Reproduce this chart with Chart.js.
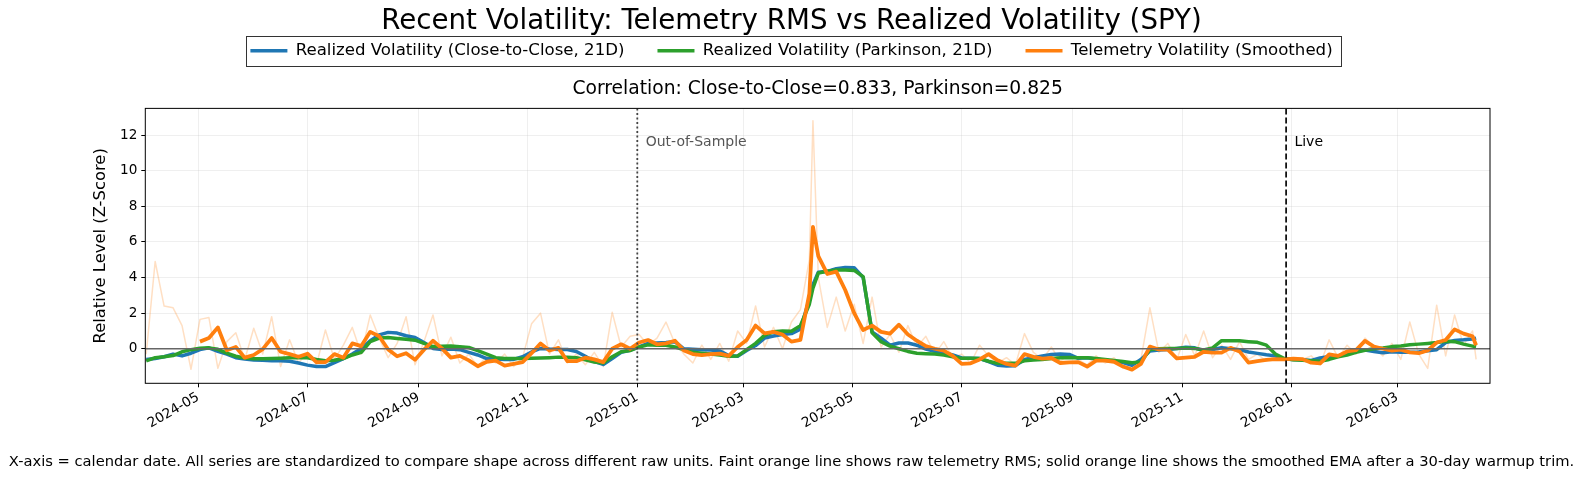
<!DOCTYPE html>
<html>
<head>
<meta charset="utf-8">
<title>Recent Volatility: Telemetry RMS vs Realized Volatility (SPY)</title>
<script src="https://cdn.jsdelivr.net/npm/chart.js@4.4.1/dist/chart.umd.min.js"></script>
<style>
  html, body { margin: 0; padding: 0; background: #fff; }
  #wrap { position: relative; width: 1583px; height: 481px; }
</style>
</head>
<body>
<div id="wrap"><canvas id="chart"></canvas></div>
<script>
// sample dates (roughly every 5 days), one line per month
const dates = [
  '2024-04-02','2024-04-07','2024-04-12','2024-04-17','2024-04-22','2024-04-27',
  '2024-05-02','2024-05-07','2024-05-12','2024-05-17','2024-05-22','2024-05-27',
  '2024-06-01','2024-06-06','2024-06-11','2024-06-16','2024-06-21','2024-06-26',
  '2024-07-01','2024-07-06','2024-07-11','2024-07-16','2024-07-21','2024-07-26','2024-07-31',
  '2024-08-05','2024-08-10','2024-08-15','2024-08-20','2024-08-25','2024-08-30',
  '2024-09-04','2024-09-09','2024-09-14','2024-09-19','2024-09-24','2024-09-29',
  '2024-10-04','2024-10-09','2024-10-14','2024-10-19','2024-10-24','2024-10-29',
  '2024-11-03','2024-11-08','2024-11-13','2024-11-18','2024-11-23','2024-11-28',
  '2024-12-03','2024-12-08','2024-12-13','2024-12-18','2024-12-23','2024-12-28',
  '2025-01-02','2025-01-07','2025-01-12','2025-01-17','2025-01-22','2025-01-27',
  '2025-02-01','2025-02-06','2025-02-11','2025-02-16','2025-02-21','2025-02-26',
  '2025-03-03','2025-03-08','2025-03-13','2025-03-18','2025-03-23','2025-03-28',
  '2025-04-02','2025-04-07','2025-04-09','2025-04-12','2025-04-17','2025-04-22','2025-04-27',
  '2025-05-02','2025-05-07','2025-05-12','2025-05-17','2025-05-22','2025-05-27',
  '2025-06-01','2025-06-06','2025-06-11','2025-06-16','2025-06-21','2025-06-26',
  '2025-07-01','2025-07-06','2025-07-11','2025-07-16','2025-07-21','2025-07-26','2025-07-31',
  '2025-08-05','2025-08-10','2025-08-15','2025-08-20','2025-08-25','2025-08-30',
  '2025-09-04','2025-09-09','2025-09-14','2025-09-19','2025-09-24','2025-09-29',
  '2025-10-04','2025-10-09','2025-10-14','2025-10-19','2025-10-24','2025-10-29',
  '2025-11-03','2025-11-08','2025-11-13','2025-11-18','2025-11-23','2025-11-28',
  '2025-12-03','2025-12-08','2025-12-13','2025-12-18','2025-12-23','2025-12-28',
  '2026-01-02','2026-01-07','2026-01-12','2026-01-17','2026-01-22','2026-01-27',
  '2026-02-01','2026-02-06','2026-02-11','2026-02-16','2026-02-21','2026-02-26',
  '2026-03-03','2026-03-08','2026-03-13','2026-03-18','2026-03-23','2026-03-28',
  '2026-04-02','2026-04-07','2026-04-12','2026-04-14'
];

// realized vol, close-to-close 21D (z-score)
const rvClose = [
  -0.6,-0.55,-0.45,-0.3,-0.4,-0.25,
  -0.05,0.05,-0.15,-0.3,-0.5,-0.58,
  -0.63,-0.65,-0.67,-0.68,-0.7,-0.8,
  -0.92,-1.0,-1.0,-0.78,-0.55,-0.3,0.02,
  0.45,0.78,0.92,0.88,0.73,0.63,
  0.35,0.02,-0.04,-0.02,-0.05,-0.2,
  -0.35,-0.55,-0.58,-0.6,-0.6,-0.45,
  -0.18,0.02,-0.02,-0.04,-0.04,-0.15,
  -0.42,-0.72,-0.88,-0.55,-0.2,-0.08,
  0.1,0.3,0.32,0.35,0.4,0.0,
  -0.03,-0.05,-0.07,-0.12,-0.38,-0.42,
  -0.1,0.18,0.6,0.72,0.8,0.85,
  1.1,2.8,3.6,4.3,4.35,4.5,4.57,
  4.55,4.0,0.95,0.6,0.2,0.32,
  0.32,0.2,-0.02,-0.15,-0.22,-0.35,
  -0.52,-0.54,-0.55,-0.72,-0.92,-0.97,-0.95,
  -0.6,-0.5,-0.4,-0.32,-0.3,-0.32,
  -0.54,-0.5,-0.58,-0.64,-0.7,-0.78,
  -0.93,-0.6,-0.12,-0.07,-0.04,0.02,
  0.08,0.05,-0.11,-0.04,0.06,0.0,
  -0.05,-0.18,-0.26,-0.34,-0.4,-0.58,
  -0.6,-0.62,-0.66,-0.52,-0.44,-0.4,
  -0.26,-0.12,-0.07,-0.15,-0.22,-0.17,
  -0.2,-0.2,-0.18,-0.11,-0.05,0.35,
  0.47,0.5,0.55,0.6
];

// realized vol, Parkinson 21D (z-score)
const rvParkinson = [
  -0.68,-0.5,-0.45,-0.38,-0.17,-0.05,
  0.03,0.05,-0.03,-0.25,-0.42,-0.52,
  -0.56,-0.56,-0.55,-0.53,-0.5,-0.5,
  -0.5,-0.6,-0.67,-0.65,-0.55,-0.35,-0.2,
  0.4,0.6,0.63,0.58,0.53,0.48,
  0.3,0.12,0.14,0.16,0.12,0.07,
  -0.1,-0.3,-0.5,-0.55,-0.55,-0.55,
  -0.54,-0.52,-0.5,-0.47,-0.48,-0.5,
  -0.62,-0.75,-0.8,-0.45,-0.17,-0.1,
  0.1,0.22,0.2,0.2,0.1,-0.05,
  -0.2,-0.25,-0.3,-0.35,-0.42,-0.4,
  -0.05,0.3,0.75,0.95,1.0,0.98,
  1.3,2.5,3.4,4.25,4.35,4.42,4.42,
  4.4,4.05,0.9,0.4,0.15,0.0,
  -0.15,-0.25,-0.28,-0.3,-0.35,-0.45,
  -0.54,-0.54,-0.55,-0.7,-0.82,-0.82,-0.82,
  -0.68,-0.63,-0.6,-0.55,-0.5,-0.49,
  -0.5,-0.5,-0.55,-0.6,-0.66,-0.72,
  -0.78,-0.75,-0.04,0.0,0.02,0.02,
  0.04,0.02,-0.07,0.05,0.45,0.45,
  0.45,0.4,0.36,0.2,-0.3,-0.55,
  -0.62,-0.65,-0.68,-0.7,-0.6,-0.45,
  -0.35,-0.2,-0.08,0.0,0.05,0.12,
  0.15,0.22,0.26,0.3,0.35,0.42,
  0.4,0.26,0.15,0.11
];

// telemetry volatility, smoothed EMA (starts after warmup trim)
const telemetrySmooth = [
  null,null,null,null,null,null,
  0.4,0.6,1.2,-0.08,0.1,-0.5,
  -0.35,-0.02,0.6,-0.17,-0.3,-0.45,
  -0.28,-0.75,-0.75,-0.3,-0.5,0.3,0.15,
  0.95,0.7,-0.04,-0.42,-0.25,-0.62,
  -0.05,0.45,0.02,-0.5,-0.4,-0.65,
  -0.98,-0.73,-0.67,-0.95,-0.85,-0.75,
  -0.25,0.3,-0.1,0.05,-0.7,-0.7,
  -0.5,-0.6,-0.75,0.0,0.25,0.0,
  0.35,0.49,0.25,0.3,0.45,-0.1,
  -0.3,-0.36,-0.3,-0.27,-0.4,0.1,
  0.49,1.3,0.86,0.95,0.8,0.4,
  0.5,3.1,6.85,5.2,4.2,4.33,3.3,
  2.0,1.05,1.3,0.95,0.85,1.35,
  0.8,0.45,0.15,0.0,-0.1,-0.4,
  -0.85,-0.82,-0.6,-0.3,-0.65,-0.85,-0.95,
  -0.3,-0.45,-0.55,-0.52,-0.8,-0.77,
  -0.75,-1.0,-0.67,-0.67,-0.73,-1.0,
  -1.17,-0.85,0.12,-0.04,-0.05,-0.54,
  -0.5,-0.45,-0.17,-0.22,-0.22,0.05,
  -0.15,-0.78,-0.7,-0.62,-0.58,-0.6,
  -0.56,-0.58,-0.78,-0.82,-0.32,-0.4,
  -0.15,-0.08,0.44,0.12,0.0,-0.1,
  -0.05,-0.2,-0.25,-0.1,0.35,0.49,
  1.09,0.85,0.7,0.2
];

// telemetry RMS, raw (faint line)
const telemetryRaw = [
  -0.3,4.9,2.4,2.3,1.3,-1.15,
  1.65,1.75,-1.1,0.4,0.9,-0.6,
  1.15,-0.3,1.8,-1.0,0.5,-0.8,
  -0.2,-0.9,1.05,-0.6,0.2,1.2,-0.3,
  1.9,0.6,-0.5,0.3,1.8,-0.9,
  0.4,1.9,-0.4,0.65,-0.8,-0.3,
  -1.0,-0.4,-0.8,-0.3,-1.0,-0.5,
  1.4,2.0,-0.3,0.5,-0.8,-0.3,
  -0.9,-0.2,-1.0,2.05,0.1,0.7,
  0.8,0.2,0.6,1.5,0.3,-0.3,
  -0.8,0.2,-0.6,0.3,-0.7,1.0,
  0.3,2.4,0.1,1.2,0.0,1.5,
  2.2,5.0,12.8,4.0,1.2,2.9,1.0,
  2.5,0.3,2.9,0.1,0.8,-0.2,
  1.3,0.1,0.7,-0.3,0.4,-0.5,
  -0.3,-0.8,0.2,-0.4,-0.8,-0.5,-0.9,
  0.85,-0.2,-0.6,0.1,-0.7,-0.3,
  -0.6,-0.9,-0.4,-0.8,-0.5,-1.1,
  -0.9,-0.6,2.3,-0.2,0.3,-0.6,
  0.8,-0.4,1.0,-0.5,0.2,-0.6,
  0.4,-0.6,-0.3,-0.7,-0.4,-0.5,
  -0.7,-0.6,-0.4,-0.9,0.5,-0.5,
  0.2,-0.3,0.6,0.1,-0.4,0.3,
  -0.6,1.5,-0.3,-1.1,2.45,-0.4,
  1.9,0.2,1.0,-0.6
];

const xTickDates = ['2024-05-01','2024-07-01','2024-09-01','2024-11-01','2025-01-01','2025-03-01',
                    '2025-05-01','2025-07-01','2025-09-01','2025-11-01','2026-01-01','2026-03-01'];
const yTicks = [0, 2, 4, 6, 8, 10, 12];
const xMin = '2024-04-01T12:00:00Z';
const xMax = '2026-04-21T18:00:00Z';
const oosDate = '2025-01-01';
const liveDate = '2025-12-29';
const markerLabelLevel = 11.57;

const titleText = 'Recent Volatility: Telemetry RMS vs Realized Volatility (SPY)';
const subtitleText = 'Correlation: Close-to-Close=0.833, Parkinson=0.825';
const footerText = 'X-axis = calendar date. All series are standardized to compare shape across different raw units. ' +
  'Faint orange line shows raw telemetry RMS; solid orange line shows the smoothed EMA after a 30-day warmup trim.';

const toMs = s => Date.parse(s.length === 10 ? s + 'T00:00:00Z' : s);
const pts = arr => dates.map((d, i) => ({ x: toMs(d), y: arr[i] }));

const FONT = "'DejaVu Sans', sans-serif";
Chart.defaults.font.family = FONT;
Chart.defaults.color = '#000';

const overlay = {
  id: 'overlay',
  afterDatasetsDraw(chart) {
    const { ctx, chartArea: a, scales: { x, y } } = chart;
    ctx.save();
    ctx.beginPath();
    ctx.rect(a.left, a.top, a.width, a.height);
    ctx.clip();

    // zero line
    const y0 = y.getPixelForValue(0);
    ctx.strokeStyle = '#666';
    ctx.lineWidth = 1.6;
    ctx.beginPath(); ctx.moveTo(a.left, y0); ctx.lineTo(a.right, y0); ctx.stroke();

    // out-of-sample split
    const xo = x.getPixelForValue(toMs(oosDate));
    ctx.strokeStyle = '#444';
    ctx.lineWidth = 1.8;
    ctx.setLineDash([2, 2.5]);
    ctx.beginPath(); ctx.moveTo(xo, a.top); ctx.lineTo(xo, a.bottom); ctx.stroke();

    // live split
    const xl = x.getPixelForValue(toMs(liveDate));
    ctx.strokeStyle = '#111';
    ctx.lineWidth = 1.8;
    ctx.setLineDash([6, 3]);
    ctx.beginPath(); ctx.moveTo(xl, a.top); ctx.lineTo(xl, a.bottom); ctx.stroke();
    ctx.setLineDash([]);

    const ly = y.getPixelForValue(markerLabelLevel);
    ctx.font = '14px ' + FONT;
    ctx.textBaseline = 'middle';
    ctx.textAlign = 'left';
    ctx.fillStyle = '#555';
    ctx.fillText('Out-of-Sample', xo + 8.4, ly);
    ctx.fillStyle = '#000';
    ctx.fillText('Live', xl + 8.3, ly);
    ctx.restore();

    // axes frame
    ctx.save();
    ctx.strokeStyle = '#000';
    ctx.lineWidth = 1;
    ctx.strokeRect(a.left, a.top, a.width, a.height);
    ctx.restore();
  },
  afterDraw(chart) {
    const { ctx } = chart;
    ctx.save();
    // frame around legend
    const hb = chart.legend && chart.legend.legendHitBoxes;
    if (hb && hb.length) {
      const first = hb[0], last = hb[hb.length - 1];
      const left = first.left - 4.5;
      const right = last.left + last.width + 8;
      const cy = first.top + first.height / 2;
      ctx.strokeStyle = '#333';
      ctx.lineWidth = 1;
      ctx.strokeRect(Math.round(left) + 0.5, Math.round(cy - 15) + 0.5, Math.round(right - left), 30);
    }
    // footer note
    ctx.font = '14.7px ' + FONT;
    ctx.fillStyle = '#000';
    ctx.textAlign = 'center';
    ctx.textBaseline = 'middle';
    ctx.fillText(footerText, chart.width / 2, chart.height - 19.3);
    ctx.restore();
  }
};

new Chart(document.getElementById('chart'), {
  type: 'line',
  data: {
    datasets: [
      {
        label: 'Telemetry RMS (raw)',
        data: pts(telemetryRaw),
        borderColor: 'rgba(255,127,14,0.25)',
        borderWidth: 1.5,
        borderJoinStyle: 'round',
        pointRadius: 0,
        order: 4
      },
      {
        label: 'Realized Volatility (Close-to-Close, 21D)',
        data: pts(rvClose),
        borderColor: '#1f77b4',
        pointBorderColor: '#1f77b4',
        borderWidth: 3.5,
        borderJoinStyle: 'round',
        pointBorderWidth: 3.5,
        pointRadius: 0,
        order: 3
      },
      {
        label: 'Realized Volatility (Parkinson, 21D)',
        data: pts(rvParkinson),
        borderColor: '#2ca02c',
        pointBorderColor: '#2ca02c',
        borderWidth: 3.5,
        borderJoinStyle: 'round',
        pointBorderWidth: 3.5,
        pointRadius: 0,
        order: 2
      },
      {
        label: 'Telemetry Volatility (Smoothed)',
        data: pts(telemetrySmooth),
        borderColor: '#ff7f0e',
        pointBorderColor: '#ff7f0e',
        borderWidth: 3.8,
        borderJoinStyle: 'round',
        pointBorderWidth: 3.5,
        pointRadius: 0,
        order: 1
      }
    ]
  },
  options: {
    responsive: true,
    maintainAspectRatio: false,
    animation: false,
    events: [],
    layout: { padding: 0 },
    plugins: {
      title: {
        display: true,
        text: titleText,
        color: '#000',
        font: { size: 27.7, weight: 'normal' },
        padding: { top: 5.4, bottom: -29.2 }
      },
      legend: {
        position: 'top',
        weight: 1800,
        labels: {
          usePointStyle: true,
          pointStyle: 'line',
          pointStyleWidth: 37,
          padding: 33,
          color: '#000',
          font: { size: 16.6 },
          filter: item => item.datasetIndex !== 0,
          sort: (a, b) => a.datasetIndex - b.datasetIndex
        }
      },
      subtitle: {
        display: true,
        text: subtitleText,
        color: '#000',
        fullSize: false,
        font: { size: 18.7, weight: 'normal' },
        padding: { top: 8.8, bottom: 8.1 }
      },
      tooltip: { enabled: false }
    },
    scales: {
      x: {
        type: 'linear',
        min: toMs(xMin),
        max: toMs(xMax),
        afterBuildTicks: s => { s.ticks = xTickDates.map(d => ({ value: toMs(d) })); },
        afterFit: s => { s.height = 97.7; },
        ticks: {
          autoSkip: false,
          minRotation: 30,
          maxRotation: 30,
          padding: 2,
          color: '#000',
          font: { size: 13.6 },
          callback: v => new Date(v).toISOString().slice(0, 7)
        },
        grid: { color: 'rgba(176,176,176,0.25)', lineWidth: 0.8, tickColor: '#000', tickLength: 4, tickWidth: 1 },
        border: { display: false }
      },
      y: {
        min: -1.94,
        max: 13.5,
        afterBuildTicks: s => { s.ticks = yTicks.map(v => ({ value: v })); },
        afterFit: s => { s.width = 145.3; },
        ticks: { padding: 4, color: '#000', font: { size: 13.6 } },
        grid: { color: 'rgba(176,176,176,0.25)', lineWidth: 0.8, tickColor: '#000', tickLength: 4, tickWidth: 1 },
        border: { display: false },
        title: {
          display: true,
          text: 'Relative Level (Z-Score)',
          color: '#000',
          font: { size: 16.4 },
          padding: { top: 91, bottom: 0 }
        }
      },
      // right-hand spacer so the plot ends where the reference plot ends
      yRight: {
        type: 'linear',
        position: 'right',
        display: true,
        grid: { display: false },
        ticks: { display: false },
        border: { display: false },
        afterFit: s => { s.width = 93; }
      }
    }
  },
  plugins: [overlay]
});
</script>
</body>
</html>
